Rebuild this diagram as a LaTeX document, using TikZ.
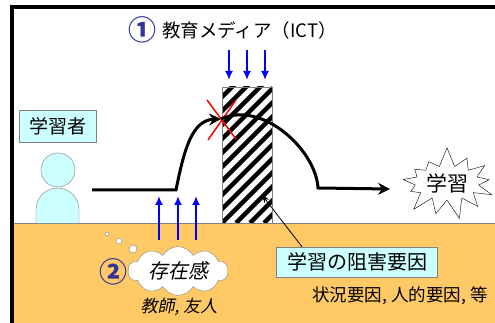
\documentclass[tikz,border=0pt]{standalone}
\usepackage{fontspec}
\setmainfont{Noto Sans CJK JP}
\newfontfamily\slantjp[FakeSlant=0.2]{Noto Sans CJK JP}
\usetikzlibrary{arrows.meta,positioning,shapes.symbols}
\definecolor{ground}{HTML}{FFC966}
\definecolor{palecyan}{HTML}{CCFFFF}
\definecolor{navy}{HTML}{333399}

\begin{document}
\begin{tikzpicture}[x=1pt,y=-1pt,
  cyanbox/.style={draw=gray, fill=palecyan, inner sep=2pt},
  pushup/.style={blue, line width=2pt, -{Latex[length=9pt,width=8pt]}},
  path/.style={line width=3pt, -{Stealth[length=12pt,width=12pt,inset=4pt]}}]
\useasboundingbox (0,0) rectangle (495,323);

% Ground and frame
\fill[ground] (12,223) rectangle (495,323);
\draw[gray] (12,223) -- (495,223);
\draw[line width=4pt] (12,323) -- (12,7) -- (495,7);

% Media from above
\node[text=navy, font=\bfseries\fontsize{28}{28}\selectfont] (one) at (142,30) {①};
\node[right=-1pt of one, font=\fontsize{18.5}{18.5}\selectfont] (media) {教育メディア（ICT）};
\foreach \x in {229,247,265}
  \draw[pushup] (\x,50) -- (\x,80);

% Hatched wall
\begin{scope}
\clip (222,87) rectangle (272,223);
\fill[white] (222,87) rectangle (272,223);
\foreach \s in {-154,-140,...,60}
  \draw[line width=4.5pt] (222+\s,223) -- ++(170,-170);
\end{scope}
\draw[gray] (222,87) rectangle (272,223);

% Learner
\node[cyanbox, minimum width=77pt, minimum height=32pt, font=\fontsize{19}{19}\selectfont] (learner) at (58,126) {学習者};
\draw[gray, fill=palecyan] (58,170) circle (17);
\draw[gray, fill=palecyan] (36,223) -- (36,209.5) arc (180:360:21.5) -- (79,223);

% Learning path
\coordinate (start) at (92,190);
\coordinate (foot) at (176,190);
\coordinate (block) at (221,119);
\coordinate (drop) at (318,188);
\draw[path] (start) -- (foot) .. controls (184,150) and (192,120) .. (block);
\draw[red, line width=1.5pt] (block) ++(-14,-19) -- ++(29,39);
\draw[red, line width=1.5pt] (block) ++(15,-19) -- ++(-28,40);
\draw[path] (block) .. controls (262,100) and (316,150) .. (drop) -- (390,189);

% Learning achieved
\node[starburst, random starburst=7, starburst points=13, starburst point height=20pt,
  draw, fill=white, minimum width=104pt, minimum height=74pt, inner sep=0pt,
  font=\fontsize{21}{21}\selectfont] (learn) at (447,183) {学習};

% Support from below
\foreach \x in {159,178,196}
  \draw[pushup] (\x,240) -- (\x,196);
\draw[gray, fill=white] (107,234) circle (2);
\draw[gray, fill=white] (119,241) circle (3);
\draw[gray, fill=white] (133,249) circle (4);
\node[cloud, cloud puffs=10, cloud puff arc=120, aspect=2.4, draw=gray, fill=white, inner sep=0pt,
  minimum width=100pt, minimum height=42pt,
  font=\slantjp\fontsize{20}{20}\selectfont] (presence) at (178,271) {存在感};
\node[text=navy, font=\bfseries\fontsize{28}{28}\selectfont] (two) at (113,272) {②};
\node[font=\slantjp\fontsize{17}{17}\selectfont] (people) at (179,307) {教師, 友人};

% Hindrance
\node[cyanbox, minimum width=161pt, minimum height=30pt, font=\fontsize{20}{20}\selectfont] (hinder) at (357,262) {学習の阻害要因};
\coordinate (wall) at (262,195);
\draw[thick, -{Stealth[length=8pt,width=6pt]}] ([xshift=-55pt]hinder.north) -- (wall);
\node[font=\fontsize{17.5}{17.5}\selectfont] (factors) at (400,296) {状況要因, 人的要因, 等};
\end{tikzpicture}
\end{document}
